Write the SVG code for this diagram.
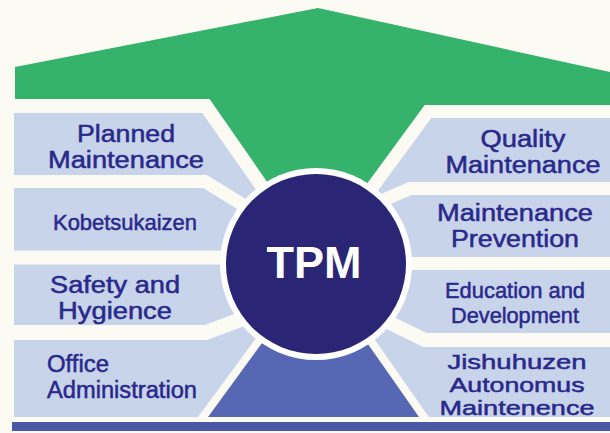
<svg xmlns="http://www.w3.org/2000/svg" width="610" height="433" viewBox="0 0 610 433">
  <style>
    .panel { fill: #c8d4ea; }
    .lbl { font-family: "Liberation Sans", Arial, sans-serif; fill: #29298c; stroke: #29298c; stroke-width: 0.5; text-anchor: middle; }
    .lbl-l { font-family: "Liberation Sans", Arial, sans-serif; fill: #29298c; stroke: #29298c; stroke-width: 0.5; text-anchor: start; }
  </style>
  <rect x="0" y="0" width="610" height="433" fill="#fbfaf3"/>
  <g id="roof">
    <polygon points="15,67 318,8 610,72 610,105 424.7,105 336,226 295,222 209.6,99 15,99" fill="#35b36d"/>
  </g>
  <g id="base">
    <polygon points="208,417 273,328 356,327 419,417" fill="#5668b4"/>
    <rect x="12" y="422" width="598" height="9" fill="#4a58a6"/>
  </g>
  <g id="planned-maintenance">
    <polygon class="panel" points="14,113 202.3,113 268,207 249,201 206.8,175 14,175"/>
    <text class="lbl" x="126" y="141.5" font-size="23" textLength="98" lengthAdjust="spacingAndGlyphs">Planned</text>
    <text class="lbl" x="126" y="167.5" font-size="23" textLength="156" lengthAdjust="spacingAndGlyphs">Maintenance</text>
  </g>
  <g id="kobetsukaizen">
    <polygon class="panel" points="14,188 203.2,188 250,217 240,250.5 14,250.5"/>
    <text class="lbl" x="125" y="230" font-size="22" textLength="144" lengthAdjust="spacingAndGlyphs">Kobetsukaizen</text>
  </g>
  <g id="safety-hygiene">
    <polygon class="panel" points="14,264.5 240,264.5 256,306 204.8,325 14,325"/>
    <text class="lbl" x="115" y="292.5" font-size="23" textLength="130" lengthAdjust="spacingAndGlyphs">Safety and</text>
    <text class="lbl" x="115" y="318.5" font-size="23" textLength="114" lengthAdjust="spacingAndGlyphs">Hygience</text>
  </g>
  <g id="office-administration">
    <polygon class="panel" points="14,340 207.2,340 263.5,319 259.8,333 198,417 14,417"/>
    <text class="lbl-l" x="47" y="371.5" font-size="23" textLength="62" lengthAdjust="spacingAndGlyphs">Office</text>
    <text class="lbl-l" x="47" y="397.5" font-size="23" textLength="150" lengthAdjust="spacingAndGlyphs">Administration</text>
  </g>
  <g id="quality-maintenance">
    <polygon class="panel" points="610,118 431.3,118 363,211 367,200 408.6,182 610,182"/>
    <text class="lbl" x="523" y="146.5" font-size="23" textLength="85" lengthAdjust="spacingAndGlyphs">Quality</text>
    <text class="lbl" x="523" y="172.5" font-size="23" textLength="155" lengthAdjust="spacingAndGlyphs">Maintenance</text>
  </g>
  <g id="maintenance-prevention">
    <polygon class="panel" points="610,195 411.4,195 361,217 380,257 610,257"/>
    <text class="lbl" x="515" y="221" font-size="23" textLength="156" lengthAdjust="spacingAndGlyphs">Maintenance</text>
    <text class="lbl" x="515" y="247" font-size="23" textLength="128" lengthAdjust="spacingAndGlyphs">Prevention</text>
  </g>
  <g id="education-development">
    <polygon class="panel" points="610,270 380,270 372.6,306.8 426.6,333 610,333"/>
    <text class="lbl" x="515" y="298" font-size="22" textLength="140" lengthAdjust="spacingAndGlyphs">Education and</text>
    <text class="lbl" x="515" y="323" font-size="22" textLength="128" lengthAdjust="spacingAndGlyphs">Development</text>
  </g>
  <g id="jishuhozen">
    <polygon class="panel" points="610,347 423.4,347 369.4,320.8 371.5,335.1 428.9,417 610,417"/>
    <text class="lbl" x="517" y="369" font-size="20.5" textLength="139" lengthAdjust="spacingAndGlyphs">Jishuhuzen</text>
    <text class="lbl" x="517" y="392" font-size="20.5" textLength="135" lengthAdjust="spacingAndGlyphs">Autonomus</text>
    <text class="lbl" x="517" y="415" font-size="20.5" textLength="155" lengthAdjust="spacingAndGlyphs">Maintenence</text>
  </g>
  <g id="tpm">
    <circle cx="316" cy="264" r="96" fill="#ffffff"/>
    <circle cx="316" cy="264" r="90" fill="#2b2576"/>
    <text x="314" y="278" font-family="Liberation Sans, Arial, sans-serif" font-weight="bold" font-size="45" fill="#ffffff" text-anchor="middle">TPM</text>
  </g>
</svg>
